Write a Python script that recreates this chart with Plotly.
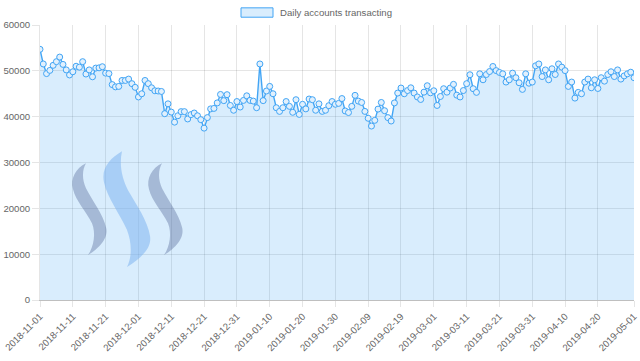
import pandas as pd
import plotly.graph_objects as go

start_date = "2018-11-01"
accounts = [
    54700, 51500, 49400, 50100, 51200, 52000, 53000, 51400, 50200, 49100,
    49800, 51000, 50800, 52000, 49300, 50200, 48700, 50600, 50650, 50900,
    49500, 49400, 47000, 46500, 46600, 47900, 47900, 48200, 47200, 46400,
    44300, 45000, 47900, 47200, 46300, 45650, 45600, 45500, 40650, 42800,
    41000, 38800, 40200, 41100, 41100, 39500, 40450, 40800, 40200, 39350,
    37500, 39800, 41700, 41800, 43000, 44850, 43500, 44800, 42450, 41400,
    43300, 42100, 43550, 44550, 43550, 43400, 41950, 51500, 43500, 45600,
    46600, 45000, 41950, 41150, 41950, 43300, 42250, 40950, 43700, 40500,
    42700, 41700, 43850, 43700, 41400, 42800, 41150, 41400, 42400, 43300,
    42700, 42900, 43950, 41250, 40900, 42250, 44650, 43400, 43100, 41150,
    39650, 37950, 39200, 41650, 43100, 41300, 39800, 39050, 43000, 45150,
    46250, 45000, 45700, 46300, 45150, 44300, 43750, 45350, 46750, 45200,
    45650, 42450, 44400, 46100, 45350, 46250, 47050, 44700, 44300, 45700,
    47200, 49150, 46100, 45300, 49350, 48050, 49200, 49850, 50950, 50050,
    49650, 49350, 47550, 48050, 49500, 48500, 47400, 45950, 49350, 47300,
    47550, 51100, 51500, 48750, 50200, 48050, 50450, 49200, 51500, 50800,
    50050, 46600, 47550, 44050, 45300, 45000, 47550, 48200, 46300, 48050,
    46150, 48500, 47750, 49200, 49800, 48750, 50200, 48200, 48900, 49350,
    49700, 48500,
]
dates = pd.date_range(start_date, periods=len(accounts), freq="D")

x_tick_labels = [
    "2018-11-01", "2018-11-11", "2018-11-21", "2018-12-01", "2018-12-11",
    "2018-12-21", "2018-12-31", "2019-01-10", "2019-01-20", "2019-01-30",
    "2019-02-09", "2019-02-19", "2019-03-01", "2019-03-11", "2019-03-21",
    "2019-03-31", "2019-04-10", "2019-04-20", "2019-05-01",
]
y_ticks = [0, 10000, 20000, 30000, 40000, 50000, 60000]
series_name = "Daily accounts transacting"

BLUE = "rgb(66,165,245)"
FILL = "rgba(66,165,245,0.2)"
FONT = "Liberation Sans, Arial, sans-serif"
GRID = "rgba(0,0,0,0.1)"

fig = go.Figure()
fig.add_trace(go.Scatter(
    x=dates, y=accounts, name=series_name, mode="lines+markers",
    fill="tozeroy", fillcolor=FILL,
    line=dict(color=BLUE, width=1.4),
    marker=dict(size=6, color="rgba(225,240,253,1)", line=dict(color=BLUE, width=1)),
    showlegend=False, hoverinfo="skip",
))

# plot-area pixel geometry (for decorations only)
L, R, T, B = 40, 634, 24.5, 300
def px(x):
    return (x - L) / (R - L)
def py(y):
    return (B - y) / (B - T)

def swoosh(dx, pts):
    s = ""
    for cmd, coords in pts:
        s += cmd + " " + ", ".join(f"{px(a + dx):.4f} {py(b):.4f}" for a, b in coords) + " "
    return s + "Z"

side = [
    ("M", [(86, 163)]),
    ("C", [(76, 168), (70, 178), (73, 189)]),
    ("C", [(76, 201), (86, 211), (92, 223)]),
    ("C", [(96, 233), (94, 246), (88, 255)]),
    ("C", [(99, 248), (109, 238), (106, 227)]),
    ("C", [(103, 214), (92, 200), (86, 188)]),
    ("C", [(82, 179), (82, 170), (86, 163)]),
]
middle = [
    ("M", [(122, 151)]),
    ("C", [(110, 158), (101, 168), (104, 182)]),
    ("C", [(107, 197), (120, 214), (127, 230)]),
    ("C", [(132, 243), (132, 257), (127, 267)]),
    ("C", [(141, 258), (152, 248), (150, 236)]),
    ("C", [(148, 221), (136, 204), (128, 190)]),
    ("C", [(122, 178), (119, 165), (122, 151)]),
]
shapes = [
    dict(type="path", xref="paper", yref="paper", path=swoosh(0, side),
         fillcolor="rgba(70,90,140,0.35)", line=dict(width=0), layer="above"),
    dict(type="path", xref="paper", yref="paper", path=swoosh(76, side),
         fillcolor="rgba(70,90,140,0.35)", line=dict(width=0), layer="above"),
    dict(type="path", xref="paper", yref="paper", path=swoosh(0, middle),
         fillcolor="rgba(120,175,240,0.5)", line=dict(width=0), layer="above"),
    # legend swatch
    dict(type="rect", xref="paper", yref="paper",
         x0=px(241), x1=px(273), y0=py(16.7), y1=py(7.3),
         fillcolor=FILL, line=dict(color=BLUE, width=1)),
]

fig.update_layout(
    width=640, height=361,
    margin=dict(l=L, r=640 - R, t=T, b=361 - B, autoexpand=False),
    paper_bgcolor="white", plot_bgcolor="white",
    font=dict(family=FONT, size=10, color="#666"),
    shapes=shapes,
    hovermode=False,
    annotations=[dict(
        xref="paper", yref="paper", x=px(278), y=py(12), xanchor="left", yanchor="middle",
        text=series_name, showarrow=False, font=dict(family=FONT, size=9.6, color="#666"),
    )],
    xaxis=dict(
        range=[dates[0], dates[-1]], tickvals=x_tick_labels, ticktext=x_tick_labels,
        tickangle=-45, showgrid=True, gridcolor=GRID, gridwidth=1,
        ticks="outside", ticklen=6, tickcolor=GRID, automargin=False,
        tickfont=dict(family=FONT, size=9.6, color="#666"),
        showline=True, linecolor="rgba(0,0,0,0.25)", zeroline=False,
    ),
    yaxis=dict(
        range=[0, 60000], tickvals=y_ticks, tickformat="d",
        showgrid=True, gridcolor=GRID, gridwidth=1,
        ticks="outside", ticklen=7, tickcolor=GRID, automargin=False,
        tickfont=dict(family=FONT, size=9.6, color="#666"),
        showline=True, linecolor=GRID, zeroline=False,
    ),
)

fig.write_html(
    "out.html",
    config={"displayModeBar": False, "staticPlot": True},
    post_script="document.body.style.margin='0';document.body.style.overflow='hidden';",
)
